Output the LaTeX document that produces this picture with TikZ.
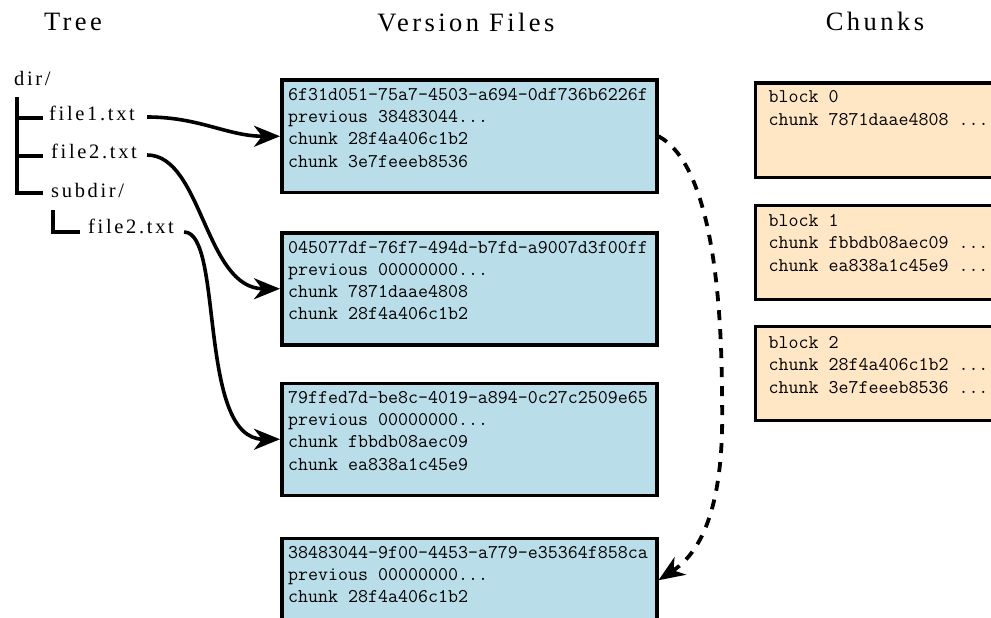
\documentclass[tikz,border=0pt]{standalone}
\usepackage{fontspec}
\setmainfont{Liberation Serif}[LetterSpace=13]
\usetikzlibrary{arrows.meta,shadows}
\definecolor{verfill}{RGB}{185,221,233}
\definecolor{chunkfill}{RGB}{255,230,197}
% three literal periods (kept out of \foreach lists, where ... means a range)
\newcommand\tdots{...}

\tikzset{
  heading/.style={font=\fontsize{26.5}{30}\selectfont, anchor=base, inner sep=0pt},
  treelbl/.style={font=\fontsize{20.5}{24}\selectfont, anchor=base west, inner sep=0pt},
  treeline/.style={line width=4pt},
  card/.style={draw=black, line width=3.5pt, rectangle, inner sep=0pt, anchor=north west,
    drop shadow={shadow xshift=-1pt, shadow yshift=-1pt, fill=black!70, opacity=1}},
  vercard/.style={card, fill=verfill, minimum width=375pt, minimum height=112pt},
  chunkcard/.style={card, fill=chunkfill, minimum width=290pt, minimum height=94pt},
  mono/.style={font=\ttfamily\fontsize{19.4}{22}\selectfont, anchor=base west, inner sep=0pt},
  link/.style={line width=3.6pt, -{Stealth[length=26pt,width=21pt,inset=8pt]}},
  backlink/.style={link, line width=3.8pt, dash pattern=on 10pt off 9pt},
}

\begin{document}
\begin{tikzpicture}[x=1pt,y=-1pt]
\useasboundingbox (0,0) rectangle (991,618);
\clip (0,0) rectangle (991,618);

% column headings
\node[heading] (hTree)   at (73,31)  {Tree};
\node[heading] (hVer)    at (466,32) {Version Files};
\node[heading] (hChunks) at (875,31) {Chunks};

% directory tree
\node[treelbl] (tDir) at (14,85)  {dir/};
\node[treelbl] (tF1)  at (49,120) {file1.txt};
\node[treelbl] (tF2)  at (51,158) {file2.txt};
\node[treelbl] (tSub) at (51,197) {subdir/};
\node[treelbl] (tSF2) at (88,233) {file2.txt};

\coordinate (trunk) at (17,97);
\coordinate (k1) at ([shift={(-6,-2)}]tF1.base west);
\coordinate (k2) at ([shift={(-8,-2)}]tF2.base west);
\coordinate (k3) at ([shift={(-8,-4)}]tSub.base west);
\draw[treeline] (trunk) |- (k3);
\draw[treeline] (trunk |- k1) -- (k1);
\draw[treeline] (trunk |- k2) -- (k2);
\coordinate (subtrunk) at (53,210);
\coordinate (k4) at ([shift={(-8,-1)}]tSF2.base west);
\draw[treeline] (subtrunk) |- (k4);

% version files
\node[vercard] (v1) at (280,78.5)  {};
\node[vercard] (v2) at (280,231)   {};
\node[vercard] (v3) at (280,381.5) {};
\node[vercard, minimum height=84pt] (v4) at (280,536.5) {};

\foreach \t [count=\i] in {6f31d051-75a7-4503-a694-0df736b6226f,previous 38483044\tdots,chunk 28f4a406c1b2,chunk 3e7feeeb8536}
  \node[mono] (v1l\i) at ([shift={(8,22+22.2*(\i-1))}]v1.north west) {\t};
\foreach \t [count=\i] in {045077df-76f7-494d-b7fd-a9007d3f00ff,previous 00000000\tdots,chunk 7871daae4808,chunk 28f4a406c1b2}
  \node[mono] (v2l\i) at ([shift={(8,22+22.2*(\i-1))}]v2.north west) {\t};
\foreach \t [count=\i] in {79ffed7d-be8c-4019-a894-0c27c2509e65,previous 00000000\tdots,chunk fbbdb08aec09,chunk ea838a1c45e9}
  \node[mono] (v3l\i) at ([shift={(8,22+22.2*(\i-1))}]v3.north west) {\t};
\foreach \t [count=\i] in {38483044-9f00-4453-a779-e35364f858ca,previous 00000000\tdots,chunk 28f4a406c1b2}
  \node[mono] (v4l\i) at ([shift={(8,22+22.2*(\i-1))}]v4.north west) {\t};

% chunk blocks
\node[chunkcard] (c0) at (753.5,81.5)  {};
\node[chunkcard] (c1) at (753.5,203.5) {};
\node[chunkcard] (c2) at (753.5,324.5) {};

\foreach \t [count=\i] in {block 0,chunk 7871daae4808 \tdots}
  \node[mono] (c0l\i) at ([shift={(15,21+22.5*(\i-1))}]c0.north west) {\t};
\foreach \t [count=\i] in {block 1,chunk fbbdb08aec09 \tdots,chunk ea838a1c45e9 \tdots}
  \node[mono] (c1l\i) at ([shift={(15,22.5+22.5*(\i-1))}]c1.north west) {\t};
\foreach \t [count=\i] in {block 2,chunk 28f4a406c1b2 \tdots,chunk 3e7feeeb8536 \tdots}
  \node[mono] (c2l\i) at ([shift={(15,23.5+22.5*(\i-1))}]c2.north west) {\t};

% tree entries point to their latest version file
\draw[link] ([shift={(12,-3)}]tF1.base east) to[out=0,in=180] (v1.west);
\draw[link] ([shift={(10,-3)}]tF2.base east) .. controls +(55,0) and +(-75,0) .. (v2.west);
\draw[link] ([shift={(10,-1)}]tSF2.base east) .. controls +(40,0) and +(-83,0) .. (v3.west);

% previous-version link, bulging out to the right of the column
\coordinate (bend) at (722,400);
\draw[backlink] (v1.east) .. controls (712,165) and (722,300) .. (bend)
                          .. controls (724,480) and (712,545) .. (v4.east);
\end{tikzpicture}
\end{document}
